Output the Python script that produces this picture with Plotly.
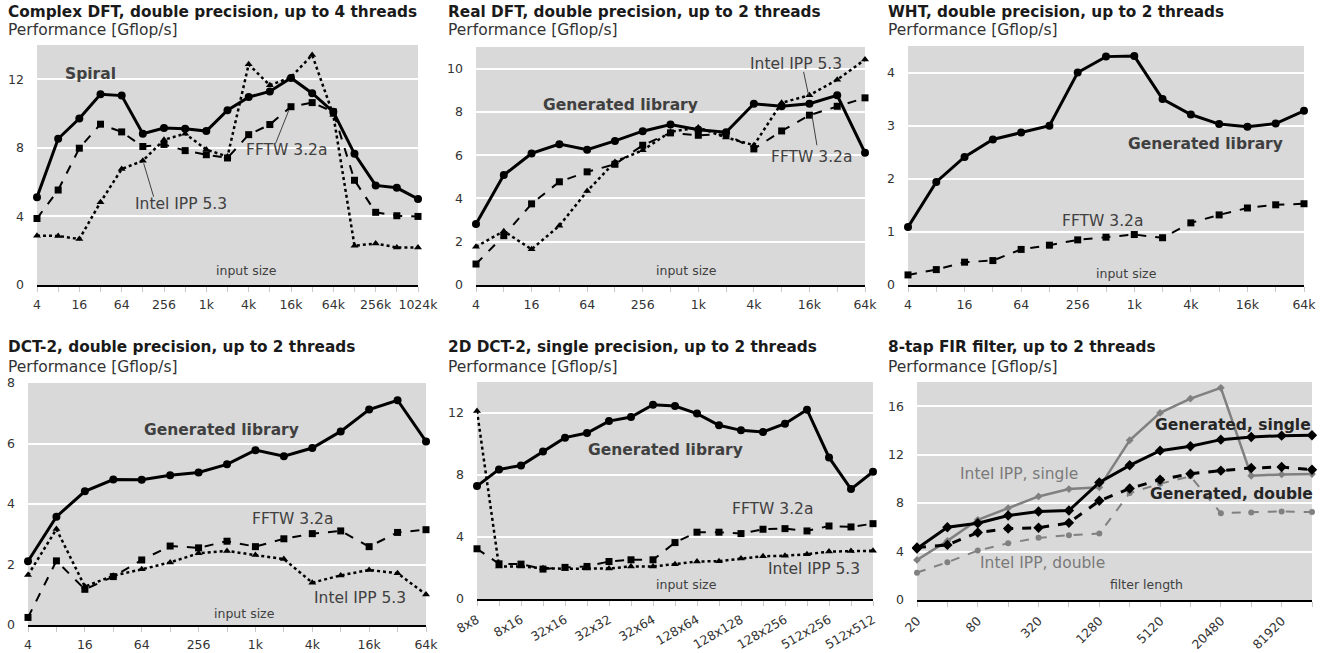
import plotly.graph_objects as go

W, H = 1326, 653
FONT = "DejaVu Sans"
TXT = "#404040"
GRAY = "#808080"

# ---------------- data ----------------
sizes_19 = ["4", "8", "16", "32", "64", "128", "256", "512", "1k", "2k", "4k", "8k",
            "16k", "32k", "64k", "128k", "256k", "512k", "1024k"]
sizes_15 = sizes_19[:15]

cdft_spiral = [5.12, 8.53, 9.71, 11.13, 11.05, 8.83, 9.16, 9.12, 8.98, 10.2, 10.96, 11.29,
               12.08, 11.19, 10.1, 7.65, 5.81, 5.67, 5.02]
cdft_fftw = [3.88, 5.54, 7.98, 9.38, 8.93, 8.08, 8.2, 7.84, 7.6, 7.41, 8.77, 9.36,
             10.4, 10.64, 10.1, 6.11, 4.24, 4.04, 4.0]
cdft_ipp = [2.88, 2.86, 2.68, 4.83, 6.76, 7.25, 8.47, 8.83, 7.9, 7.49, 12.87, 11.65,
            12.12, 13.42, 9.91, 2.29, 2.42, 2.19, 2.19]

rdft_gen = [2.82, 5.08, 6.08, 6.51, 6.25, 6.66, 7.11, 7.42, 7.18, 7.06, 8.38, 8.26, 8.38, 8.77, 6.11]
rdft_fftw = [0.97, 2.28, 3.75, 4.77, 5.23, 5.58, 6.46, 7.03, 6.92, 6.97, 6.29, 7.12, 7.85, 8.26, 8.65]
rdft_ipp = [1.77, 2.49, 1.65, 2.74, 4.34, 5.69, 6.23, 7.08, 7.28, 6.82, 6.46, 8.42, 8.77, 9.49, 10.42]

wht_gen = [1.09, 1.94, 2.41, 2.74, 2.87, 3.0, 4.0, 4.3, 4.31, 3.5, 3.21, 3.03, 2.98, 3.04, 3.28]
wht_fftw = [0.19, 0.29, 0.43, 0.46, 0.67, 0.75, 0.85, 0.9, 0.95, 0.89, 1.17, 1.32, 1.45, 1.51, 1.53]

dct_gen = [2.11, 3.58, 4.42, 4.81, 4.8, 4.95, 5.04, 5.31, 5.78, 5.58, 5.85, 6.4, 7.12, 7.43, 6.07]
dct_fftw = [0.25, 2.12, 1.18, 1.6, 2.15, 2.61, 2.55, 2.77, 2.59, 2.85, 3.02, 3.11, 2.59, 3.06, 3.15]
dct_ipp = [1.65, 3.17, 1.27, 1.63, 1.84, 2.07, 2.37, 2.45, 2.31, 2.18, 1.4, 1.64, 1.82, 1.71, 1.01]

sizes_2d = ["8x8", "16x8", "8x16", "16x16", "32x16", "16x32", "32x32", "64x32", "32x64",
            "64x64", "128x64", "64x128", "128x128", "256x128", "128x256", "256x256",
            "512x256", "256x512", "512x512"]
dct2d_gen = [7.29, 8.36, 8.61, 9.51, 10.41, 10.71, 11.48, 11.74, 12.53, 12.45, 11.96, 11.21,
             10.88, 10.78, 11.31, 12.21, 9.13, 7.09, 8.21]
dct2d_fftw = [3.24, 2.27, 2.25, 1.93, 2.04, 2.1, 2.42, 2.53, 2.53, 3.64, 4.31, 4.31, 4.22,
              4.5, 4.54, 4.39, 4.71, 4.65, 4.86]
dct2d_ipp = [12.13, 2.1, 2.1, 1.99, 1.95, 1.97, 1.97, 2.1, 2.1, 2.25, 2.42, 2.44, 2.61,
             2.76, 2.79, 2.89, 3.06, 3.09, 3.11]

filter_len = ["20", "40", "80", "160", "320", "640", "1280", "2560", "5120", "10240",
              "20480", "40960", "81920", "163840"]
fir_gen_single = [4.25, 6.01, 6.34, 6.98, 7.31, 7.39, 9.71, 11.12, 12.33, 12.69, 13.24, 13.46, 13.57, 13.6]
fir_gen_double = [4.33, 4.55, 5.57, 5.9, 5.96, 6.37, 8.19, 9.21, 9.93, 10.43, 10.68, 10.9, 10.98, 10.76]
fir_ipp_single = [3.31, 4.88, 6.62, 7.59, 8.55, 9.16, 9.3, 13.19, 15.45, 16.63, 17.52, 10.26, 10.37, 10.4]
fir_ipp_double = [2.26, 3.12, 4.08, 4.69, 5.13, 5.35, 5.49, 8.83, 9.6, 10.21, 7.17, 7.23, 7.31, 7.26]

titles = ["Complex DFT, double precision, up to 4 threads",
          "Real DFT, double precision, up to 2 threads",
          "WHT, double precision, up to 2 threads",
          "DCT-2, double precision, up to 2 threads",
          "2D DCT-2, single precision, up to 2 threads",
          "8-tap FIR filter, up to 2 threads"]
subtitle = "Performance [Gflop/s]"

# ---------------- layout geometry (pixels) ----------------
# (x0, x1, ytop, ybottom, ymax, ydtick, title_x, title_y, sub_y, tickangle)
panels = [
    (37, 418, 45, 285, 14, 4, 6, 12, 30, 0),
    (476, 865, 47, 285, 11, 2, 446, 12, 30, 0),
    (908, 1304, 46, 285, 4.5, 1, 886, 12, 30, 0),
    (28, 426, 383, 625, 8, 2, 6, 347, 367, 0),
    (477, 873, 382, 599, 14, 4, 446, 347, 367, -30),
    (917, 1312, 382, 600, 18, 4, 886, 347, 367, -45),
]
cats = [sizes_19, sizes_15, sizes_15, sizes_15, sizes_2d, filter_len]

fig = go.Figure()
layout = dict(
    width=W, height=H, margin=dict(l=0, r=0, t=0, b=0, autoexpand=False),
    paper_bgcolor="white", plot_bgcolor="#d9d9d9", showlegend=False,
    font=dict(family=FONT, color="#333333", size=12),
)
annotations = []
shapes = []

for i, (x0, x1, yt, yb, ymax, dt, tx, ty, sy, ang) in enumerate(panels):
    k = "" if i == 0 else str(i + 1)
    c = cats[i]
    layout["xaxis" + k] = dict(
        domain=[x0 / W, x1 / W], anchor="y" + k, type="category", automargin=False,
        range=[0, len(c) - 1], showgrid=False, zeroline=False,
        showline=True, linecolor="black", linewidth=1.5,
        ticks="outside", ticklen=5, tickcolor="#c8c8c8", tickwidth=1,
        tickmode="array", tickvals=c, ticklabelstandoff=2,
        ticktext=[t if j % 2 == 0 else "" for j, t in enumerate(c)],
        tickangle=ang, tickfont=dict(size=12.5, color="#333333"),
    )
    layout["yaxis" + k] = dict(
        domain=[1 - yb / H, 1 - yt / H], anchor="x" + k, automargin=False,
        range=[0, ymax], dtick=dt, tick0=0, showgrid=True,
        gridcolor="white", gridwidth=1.5, zeroline=False, showline=False,
        ticks="", tickfont=dict(size=12.5, color="#333333"), ticklabelstandoff=12,
    )
    annotations.append(dict(text="<b>" + titles[i] + "</b>", x=tx / W, y=1 - ty / H,
                            xref="paper", yref="paper", xanchor="left", yanchor="middle",
                            showarrow=False, font=dict(size=15.3, color="#1a1a1a")))
    annotations.append(dict(text=subtitle, x=tx / W, y=1 - sy / H,
                            xref="paper", yref="paper", xanchor="left", yanchor="middle",
                            showarrow=False, font=dict(size=15.5, color="#333333")))


def add(i, x, y, dash, width, symbol, msize, color="black"):
    k = "" if i == 0 else str(i + 1)
    fig.add_trace(go.Scatter(
        x=x, y=y, mode="lines+markers", xaxis="x" + k, yaxis="y" + k,
        line=dict(color=color, width=width, dash=dash),
        marker=dict(symbol=symbol, size=msize, color=color),
        cliponaxis=False,
    ))


def label(i, x, y, text, bold=False, size=15.5, color=TXT):
    k = "" if i == 0 else str(i + 1)
    annotations.append(dict(text=("<b>%s</b>" % text) if bold else text, x=x, y=y,
                            xref="x" + k, yref="y" + k, showarrow=False,
                            font=dict(size=size, color=color)))


def callout(i, xa, ya, xb, yb):
    k = "" if i == 0 else str(i + 1)
    shapes.append(dict(type="line", xref="x" + k, yref="y" + k, x0=xa, y0=ya, x1=xb, y1=yb,
                       line=dict(color="#404040", width=1)))


# Panel 1
add(0, sizes_19, cdft_ipp, "dot", 2.5, "triangle-up", 7)
add(0, sizes_19, cdft_fftw, "dash", 2, "square", 7)
add(0, sizes_19, cdft_spiral, "solid", 3, "circle", 8)
label(0, 2.55, 12.3, "Spiral", bold=True, size=15.5)
label(0, 11.8, 7.85, "FFTW 3.2a")
label(0, 6.8, 4.7, "Intel IPP 5.3")
label(0, 9.92, 0.85, "input size", size=12.5)
callout(0, 11.27, 8.25, 11.9, 10.2)
callout(0, 5.51, 5.15, 5.04, 7.1)

# Panel 2
add(1, sizes_15, rdft_ipp, "dot", 2.5, "triangle-up", 7)
add(1, sizes_15, rdft_fftw, "dash", 2, "square", 7)
add(1, sizes_15, rdft_gen, "solid", 3, "circle", 8)
label(1, 5.19, 8.3, "Generated library", bold=True, size=15.5)
label(1, 11.5, 10.23, "Intel IPP 5.3")
label(1, 12.09, 5.92, "FFTW 3.2a")
label(1, 7.59, 0.69, "input size", size=12.5)
callout(1, 11.79, 9.85, 11.97, 8.77)
callout(1, 12.27, 6.46, 12.09, 7.85)

# Panel 3
add(2, sizes_15, wht_fftw, "dash", 2, "square", 7)
add(2, sizes_15, wht_gen, "solid", 3, "circle", 8)
label(2, 10.52, 2.65, "Generated library", bold=True, size=15.5)
label(2, 6.87, 1.21, "FFTW 3.2a")
label(2, 7.73, 0.22, "input size", size=12.5)

# Panel 4
add(3, sizes_15, dct_ipp, "dot", 2.5, "triangle-up", 7)
add(3, sizes_15, dct_fftw, "dash", 2, "square", 7)
add(3, sizes_15, dct_gen, "solid", 3, "circle", 8)
label(3, 6.79, 6.46, "Generated library", bold=True, size=15.5)
label(3, 9.32, 3.52, "FFTW 3.2a")
label(3, 11.67, 0.88, "Intel IPP 5.3")
label(3, 7.61, 0.39, "input size", size=12.5)

# Panel 5
add(4, sizes_2d, dct2d_ipp, "dot", 2.5, "triangle-up", 7)
add(4, sizes_2d, dct2d_fftw, "dash", 2, "square", 7)
add(4, sizes_2d, dct2d_gen, "solid", 3, "circle", 8)
label(4, 8.58, 9.6, "Generated library", bold=True, size=15.5)
label(4, 13.42, 5.79, "FFTW 3.2a")
label(4, 15.31, 1.93, "Intel IPP 5.3")
label(4, 9.53, 0.96, "input size", size=12.5)

# Panel 6
add(5, filter_len, fir_ipp_double, "dash", 2, "circle", 6, GRAY)
add(5, filter_len, fir_ipp_single, "solid", 2.5, "diamond", 6, GRAY)
add(5, filter_len, fir_gen_double, "dash", 3, "diamond", 8)
add(5, filter_len, fir_gen_single, "solid", 3, "diamond", 8)
label(5, 10.4, 14.48, "Generated, single", bold=True, size=15.5, color="#262626")
label(5, 10.34, 8.77, "Generated, double", bold=True, size=15.5, color="#262626")
label(5, 3.35, 10.43, "Intel IPP, single", color="#7a7a7a")
label(5, 4.14, 3.03, "Intel IPP, double", color="#7a7a7a")
label(5, 7.54, 1.3, "filter length", size=12.5)

layout["annotations"] = annotations
layout["shapes"] = shapes
fig.update_layout(**layout)
fig.write_html("out.html", config={"displayModeBar": False},
               post_script="document.body.style.margin='0';document.body.style.overflow='hidden';")
